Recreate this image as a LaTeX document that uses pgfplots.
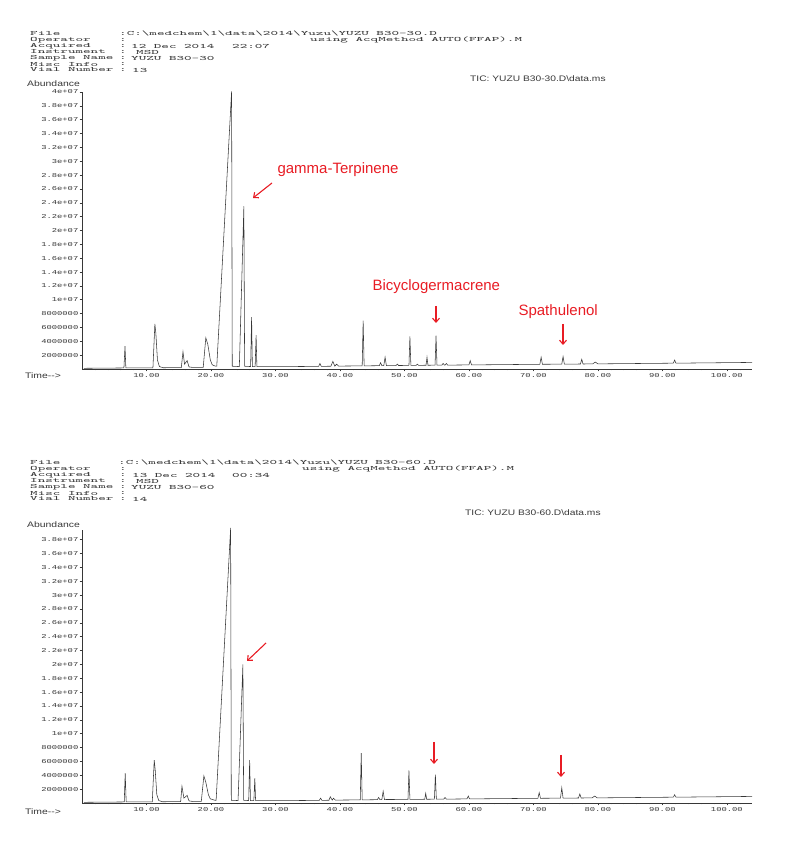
\documentclass[border=0pt]{standalone}
\usepackage{fontspec}
\setmainfont{Liberation Sans}
\newfontfamily\tkfont{Liberation Mono}
\usepackage{graphicx}
\usepackage{pgfplots}
\pgfplotsset{compat=1.18}
\usetikzlibrary{arrows.meta}
\definecolor{annred}{RGB}{232,28,36}
\definecolor{ink}{RGB}{55,55,55}
\newcommand{\hd}[1]{\scalebox{1.9}[0.88]{\fontsize{7.5}{7.5}\ttfamily #1}}
\newcommand{\tk}[1]{\scalebox{1.47}[1]{\fontsize{6}{6}\tkfont #1}}
\newcommand{\sm}[1]{\scalebox{1.3}[1]{\fontsize{8}{8}\selectfont #1}}
\newcommand{\tic}[1]{\scalebox{1.28}[1]{\fontsize{8}{8}\selectfont #1}}
\newcommand{\ann}[1]{{\fontsize{15}{15}\selectfont #1}}
\pgfplotsset{gc/.style={
  scale only axis, width=670pt, xmin=0, xmax=103.9, ymin=0,
  anchor=south west, clip=false,
  axis x line*=bottom, axis y line*=left,
  axis line style={ink, line width=0.6pt},
  tick align=outside, major tick length=2.5pt, minor tick length=1.5pt,
  tick style={ink, line width=0.5pt},
  xtick={10,20,30,40,50,60,70,80,90,100},
  xticklabels={\tk{10.00},\tk{20.00},\tk{30.00},\tk{40.00},\tk{50.00},\tk{60.00},\tk{70.00},\tk{80.00},\tk{90.00},\tk{100.00}},
  minor xtick={2,4,...,102},
  scaled y ticks=false,
  yticklabel style={inner sep=1pt, text=ink},
  xticklabel style={inner sep=2pt, text=ink},
}}
\begin{document}
\begin{tikzpicture}
\path[use as bounding box] (0,0) rectangle (785pt,842pt);
% ---------- top header ----------
\begin{scope}[every node/.style={inner sep=0pt, anchor=west, text=ink}]
\node at (30pt,808pt) {\hd{File}};
\node at (119pt,809pt) {\hd{:C:\textbackslash medchem\textbackslash 1\textbackslash data\textbackslash 2014\textbackslash Yuzu\textbackslash YUZU B30-30.D}};
\node at (30pt,802pt) {\hd{Operator}};
\node at (119pt,802pt) {\hd{:}};
\node at (310pt,802pt) {\hd{using AcqMethod AUTO(FFAP).M}};
\node at (30pt,796pt) {\hd{Acquired}};
\node at (119pt,796pt) {\hd{:}};
\node at (131pt,796pt) {\hd{12 Dec 2014}};
\node at (232pt,796pt) {\hd{22:07}};
\node at (30pt,790pt) {\hd{Instrument}};
\node at (119pt,790pt) {\hd{:}};
\node at (136pt,790pt) {\hd{MSD}};
\node at (30pt,784pt) {\hd{Sample Name}};
\node at (119pt,784pt) {\hd{:}};
\node at (131pt,784pt) {\hd{YUZU B30-30}};
\node at (30pt,778pt) {\hd{Misc Info}};
\node at (119pt,778pt) {\hd{:}};
\node at (30pt,772pt) {\hd{Vial Number}};
\node at (119pt,772pt) {\hd{:}};
\node at (132pt,772pt) {\hd{13}};
\node at (470pt,763pt) {\tic{TIC: YUZU B30-30.D\textbackslash data.ms}};
\node at (27pt,758pt) {\sm{Abundance}};
\node at (25pt,466pt) {\sm{Time-{}->}};
% ---------- bottom header ----------
\node at (30pt,379pt) {\hd{File}};
\node at (118pt,380pt) {\hd{:C:\textbackslash medchem\textbackslash 1\textbackslash data\textbackslash 2014\textbackslash Yuzu\textbackslash YUZU B30-60.D}};
\node at (30pt,373pt) {\hd{Operator}};
\node at (119pt,373pt) {\hd{:}};
\node at (302pt,373pt) {\hd{using AcqMethod AUTO(FFAP).M}};
\node at (30pt,367pt) {\hd{Acquired}};
\node at (119pt,367pt) {\hd{:}};
\node at (132pt,367pt) {\hd{13 Dec 2014}};
\node at (232pt,367pt) {\hd{00:34}};
\node at (30pt,361pt) {\hd{Instrument}};
\node at (119pt,361pt) {\hd{:}};
\node at (136pt,361pt) {\hd{MSD}};
\node at (30pt,355pt) {\hd{Sample Name}};
\node at (119pt,355pt) {\hd{:}};
\node at (131pt,355pt) {\hd{YUZU B30-60}};
\node at (30pt,349pt) {\hd{Misc Info}};
\node at (119pt,349pt) {\hd{:}};
\node at (30pt,343pt) {\hd{Vial Number}};
\node at (119pt,343pt) {\hd{:}};
\node at (132pt,343pt) {\hd{14}};
\node at (465pt,329pt) {\tic{TIC: YUZU B30-60.D\textbackslash data.ms}};
\node at (27pt,317pt) {\sm{Abundance}};
\node at (25pt,30pt) {\sm{Time-{}->}};
\end{scope}
% ---------- top chromatogram ----------
\begin{axis}[gc, at={(82pt,473pt)}, height=277pt, ymax=40000000,
  ytick={2000000,4000000,6000000,8000000,10000000,12000000,14000000,16000000,18000000,20000000,22000000,24000000,26000000,28000000,30000000,32000000,34000000,36000000,38000000,40000000},
  yticklabels={\tk{2000000},\tk{4000000},\tk{6000000},\tk{8000000},\tk{1e+07},\tk{1.2e+07},\tk{1.4e+07},\tk{1.6e+07},\tk{1.8e+07},\tk{2e+07},\tk{2.2e+07},\tk{2.4e+07},\tk{2.6e+07},\tk{2.8e+07},\tk{3e+07},\tk{3.2e+07},\tk{3.4e+07},\tk{3.6e+07},\tk{3.8e+07},\tk{4e+07}}]
\addplot[ink, line width=0.55pt, mark=none] table[x=t, y=a] {
t a
0.3 100000
6.5 150000
6.67 3300000
6.8 150000
11.0 170000
11.3 6500000
11.45 5200000
11.7 1300000
12.0 350000
12.6 180000
15.4 200000
15.66 2500000
15.9 700000
16.3 1200000
16.6 300000
17.2 220000
18.8 250000
19.2 4500000
19.5 3600000
19.9 1300000
20.2 600000
20.7 400000
20.9 400000
23.2 40100000
23.3 400000
24.4 350000
25.1 23500000
25.22 400000
26.15 350000
26.3 7500000
26.42 350000
26.85 350000
27.0 4900000
27.12 350000
30.0 330000
36.7 380000
36.9 800000
37.1 380000
38.6 400000
38.9 1100000
39.2 420000
39.5 700000
39.8 420000
43.45 450000
43.6 7000000
43.75 450000
46.1 480000
46.3 900000
46.5 480000
46.8 500000
47.0 1700000
47.2 500000
48.7 500000
48.9 700000
49.1 500000
50.7 520000
50.85 4700000
51.0 520000
51.8 530000
52.0 700000
52.2 530000
53.35 540000
53.5 1700000
53.65 540000
54.75 550000
54.9 4800000
55.05 550000
55.8 560000
56.0 800000
56.2 560000
56.3 560000
56.5 800000
56.7 560000
60.0 590000
60.2 1200000
60.4 590000
71.0 680000
71.2 1700000
71.4 680000
74.4 700000
74.6 1800000
74.8 700000
77.3 720000
77.5 1400000
77.7 720000
79.2 740000
79.6 1000000
80.0 740000
91.7 840000
91.9 1300000
92.1 840000
103.9 950000
};
\end{axis}
% ---------- bottom chromatogram ----------
\begin{axis}[gc, at={(82pt,39pt)}, height=273pt, ymax=39400000,
  ytick={2000000,4000000,6000000,8000000,10000000,12000000,14000000,16000000,18000000,20000000,22000000,24000000,26000000,28000000,30000000,32000000,34000000,36000000,38000000},
  yticklabels={\tk{2000000},\tk{4000000},\tk{6000000},\tk{8000000},\tk{1e+07},\tk{1.2e+07},\tk{1.4e+07},\tk{1.6e+07},\tk{1.8e+07},\tk{2e+07},\tk{2.2e+07},\tk{2.4e+07},\tk{2.6e+07},\tk{2.8e+07},\tk{3e+07},\tk{3.2e+07},\tk{3.4e+07},\tk{3.6e+07},\tk{3.8e+07}}]
\addplot[ink, line width=0.55pt, mark=none] table[x=t, y=a] {
t a
0.3 100000
6.55 150000
6.7 4300000
6.85 150000
10.9 170000
11.2 6200000
11.35 4800000
11.6 1200000
11.9 350000
12.5 180000
15.3 200000
15.5 2400000
15.8 700000
16.3 1100000
16.6 300000
17.2 220000
18.5 250000
18.9 3900000
19.2 3000000
19.6 1200000
19.9 600000
20.6 400000
20.8 400000
23.05 39700000
23.15 400000
24.2 350000
24.95 20000000
25.07 400000
25.85 350000
26.0 6200000
26.12 350000
26.65 350000
26.8 3600000
26.92 350000
30.0 330000
36.8 380000
37.0 700000
37.2 380000
38.3 400000
38.5 900000
38.8 420000
39.0 700000
39.3 420000
43.15 450000
43.3 7200000
43.45 450000
45.8 480000
46.0 800000
46.2 480000
46.5 500000
46.7 1700000
46.9 500000
50.55 520000
50.7 4700000
50.85 520000
53.15 540000
53.3 1400000
53.45 540000
54.65 550000
54.8 4100000
54.95 550000
56.1 560000
56.3 800000
56.5 560000
59.7 590000
59.9 1000000
60.1 590000
70.7 680000
70.9 1500000
71.1 680000
74.2 700000
74.4 2200000
74.6 700000
77.0 720000
77.2 1300000
77.4 720000
79.1 740000
79.5 1000000
79.9 740000
91.7 840000
91.9 1200000
92.1 840000
103.9 950000
};
\end{axis}
% ---------- annotations ----------
\begin{scope}[annred, line width=1.1pt, -{Straight Barb[length=4pt,width=7pt]}]
\node[anchor=west, inner sep=0pt, text=annred] at (277pt,672pt) {\ann{gamma-Terpinene}};
\draw (272pt,659pt) -- (253pt,644pt);
\node[anchor=west, inner sep=0pt, text=annred] at (372pt,555pt) {\ann{Bicyclogermacrene}};
\draw (436pt,536pt) -- (436pt,519pt);
\node[anchor=west, inner sep=0pt, text=annred] at (518pt,530pt) {\ann{Spathulenol}};
\draw (563pt,518pt) -- (563pt,497pt);
\draw (266pt,199pt) -- (247pt,181pt);
\draw (434pt,100pt) -- (434pt,78pt);
\draw (561pt,87pt) -- (561pt,65pt);
\end{scope}
\end{tikzpicture}
\end{document}
